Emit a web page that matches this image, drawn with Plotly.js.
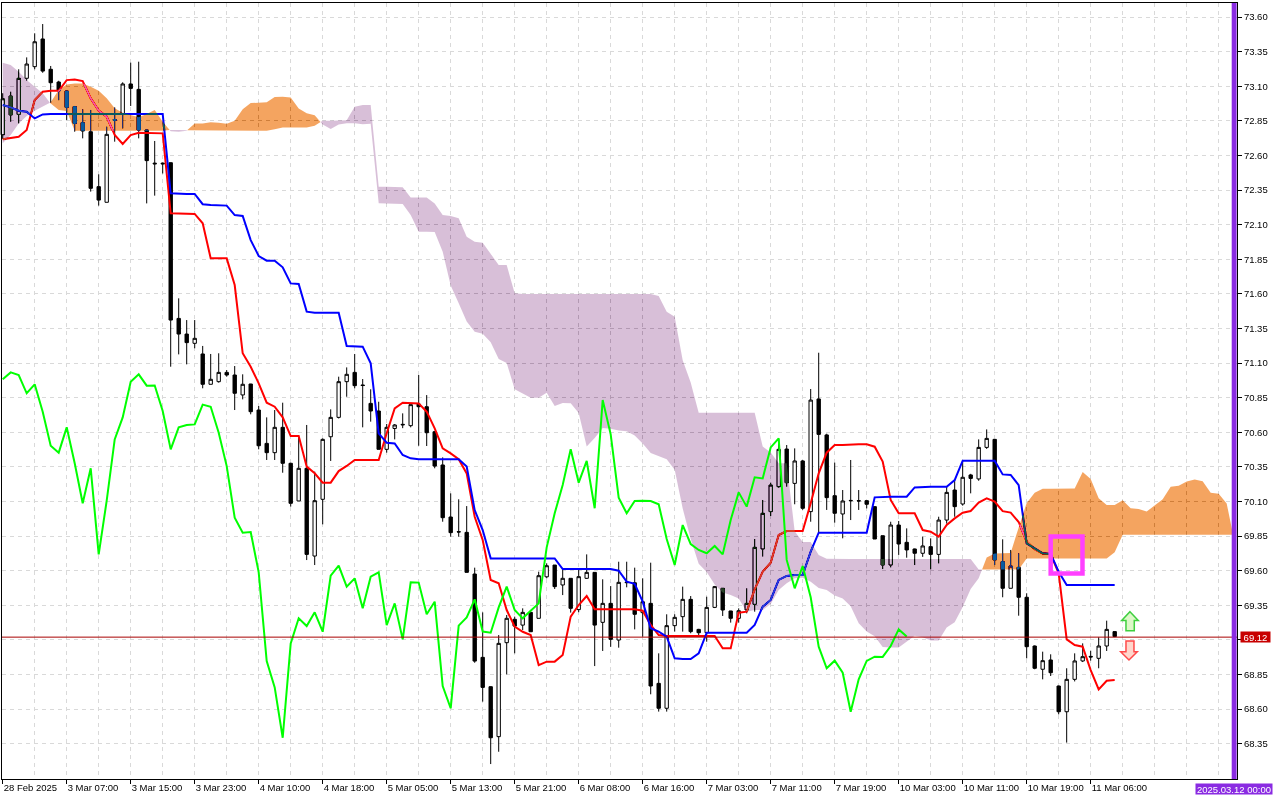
<!DOCTYPE html>
<html>
<head>
<meta charset="utf-8">
<script src="https://cdn.plot.ly/plotly-3.0.1.min.js"></script>
<style>
html,body{margin:0;padding:0;background:#ffffff;}
#chart{width:1280px;height:800px;}
</style>
</head>
<body>
<div id="chart"></div>
<script>
// ---------------- DATA ----------------
const openP = [72.75,73.03,72.897,73.158,73.242,73.442,73.223,73.131,73.066,72.953,
72.837,72.772,72.375,72.262,72.86,72.897,73.117,73.078,72.784,72.545,
72.545,72.548,71.423,71.31,71.243,71.166,70.947,70.966,71.033,71.014,
70.87,70.949,70.761,70.52,70.453,70.636,70.376,70.104,70.34,69.706,
70.116,70.568,70.708,70.966,71.033,70.942,70.809,70.754,70.477,70.628,
70.653,70.648,70.804,70.785,70.604,70.364,69.988,69.882,69.877,69.576,
68.974,68.762,68.401,69.08,69.249,69.207,69.299,69.256,69.556,69.641,
69.497,69.545,69.319,69.545,69.588,69.227,69.364,69.099,69.518,69.513,
69.297,69.364,68.786,68.606,69.203,69.268,69.393,69.176,69.152,69.335,
69.473,69.309,69.256,69.316,69.357,69.757,70.027,70.207,70.479,70.231,
70.393,70.027,70.841,70.581,70.142,70.01,70.108,70.106,70.106,70.063,
69.853,69.641,69.93,69.805,69.757,69.726,69.774,69.718,69.966,70.183,
70.082,70.292,70.263,70.491,70.549,69.665,69.473,69.624,69.408,69.056,
68.888,68.955,68.767,68.581,68.815,68.948,68.981,68.967,69.056,69.16];

const highP = [73.05,73.061,73.223,73.309,73.483,73.55,73.247,73.14,73.07,72.958,
72.934,72.929,72.464,72.808,72.948,73.129,73.271,73.278,72.79,72.705,
72.55,72.55,71.568,71.411,71.411,71.224,71.166,71.171,71.05,71.079,
71.019,70.95,70.79,70.708,70.761,70.814,70.38,70.564,70.653,70.316,
70.556,70.766,71.002,71.069,71.166,70.985,70.911,70.821,70.66,70.66,
70.737,70.8,71.014,70.869,70.61,70.419,70.159,70.116,70.067,69.622,
69.299,68.765,69.135,69.28,69.268,69.328,69.3,69.593,69.653,69.641,
69.605,69.545,69.605,69.718,69.59,69.538,69.489,69.665,69.665,69.622,
69.545,69.658,69.003,69.285,69.285,69.485,69.417,69.18,69.412,69.49,
69.473,69.31,69.328,69.473,69.829,70.111,70.236,70.552,70.508,70.484,
70.4,70.913,71.175,70.59,70.381,70.183,70.4,70.183,70.11,70.063,
69.853,69.954,69.959,69.906,69.76,69.846,69.834,69.99,70.207,70.255,
70.4,70.3,70.549,70.621,70.55,69.827,69.75,69.726,69.437,69.06,
69.015,68.996,68.77,68.895,69.003,69.075,69.022,69.119,69.239,69.16];

const lowP = [72.72,72.844,72.832,73.141,73.223,73.198,72.982,73.0,72.856,72.772,
72.724,72.339,72.238,72.262,72.7,72.796,72.958,72.724,72.254,72.31,
72.47,71.074,71.163,71.091,71.207,70.918,70.947,70.959,71.002,70.761,
70.838,70.73,70.477,70.4,70.4,70.308,70.063,70.104,69.677,69.641,
69.935,70.393,70.7,70.857,70.918,70.636,70.677,70.477,70.453,70.549,
70.63,70.636,70.503,70.501,70.34,69.954,69.846,69.846,69.588,68.935,
68.654,68.203,68.292,68.851,69.003,69.171,69.159,69.256,69.545,69.468,
69.424,69.297,69.3,69.54,68.911,69.02,69.05,69.044,69.48,69.176,
69.123,68.707,68.582,68.582,69.16,69.16,69.148,69.13,69.087,69.33,
69.273,69.225,69.225,69.292,69.304,69.702,69.995,70.2,70.207,70.08,
70.04,69.954,69.875,70.039,69.947,69.834,69.966,70.039,70.05,69.829,
69.612,69.624,69.714,69.694,69.641,69.7,69.61,69.653,69.94,69.99,
70.07,70.159,70.25,70.48,69.641,69.408,69.473,69.275,68.967,68.888,
68.815,68.839,68.562,68.358,68.8,68.94,68.95,68.895,69.02,69.12];

const closeP = [73.01,72.893,73.158,73.261,73.422,73.21,73.126,73.068,72.948,72.832,
72.777,72.363,72.278,72.753,72.855,73.117,73.085,72.784,72.563,72.54,
72.54,71.411,71.31,71.248,71.279,70.947,70.983,71.033,71.014,70.882,
70.947,70.749,70.503,70.453,70.636,70.376,70.087,70.34,69.718,70.106,
70.549,70.708,70.966,71.019,70.937,70.938,70.754,70.477,70.636,70.653,
70.657,70.8,70.785,70.597,70.356,69.983,69.875,69.88,69.588,68.947,
68.757,68.393,69.075,69.256,69.2,69.299,69.159,69.564,69.636,69.485,
69.545,69.328,69.557,69.588,69.207,69.364,69.104,69.516,69.514,69.285,
69.376,68.767,68.606,69.203,69.263,69.393,69.16,69.152,69.335,69.485,
69.316,69.256,69.311,69.364,69.769,70.015,70.219,70.477,70.236,70.393,
70.051,70.833,70.585,70.128,70.015,70.104,70.106,70.104,70.08,69.829,
69.641,69.93,69.793,69.75,69.726,69.779,69.718,69.966,70.166,70.063,
70.275,70.267,70.491,70.556,69.678,69.473,69.634,69.408,69.051,68.895,
68.95,68.863,68.581,68.815,68.948,68.979,68.977,69.056,69.176,69.124];

const tenkan = [72.717,72.724,72.736,72.784,73.001,73.061,73.068,73.068,73.145,73.15,
73.138,73.013,72.924,72.881,72.748,72.683,72.748,72.765,72.765,72.765,
72.76,72.182,72.182,72.182,72.178,72.11,71.857,71.857,71.857,71.664,
71.171,71.074,70.954,70.814,70.785,70.708,70.573,70.573,70.352,70.304,
70.236,70.236,70.32,70.357,70.4,70.4,70.4,70.4,70.593,70.773,
70.814,70.814,70.809,70.749,70.629,70.484,70.448,70.405,70.303,69.99,
69.822,69.533,69.509,69.316,69.196,69.159,69.135,68.918,68.943,68.943,
68.991,69.268,69.352,69.417,69.321,69.321,69.321,69.321,69.321,69.321,
69.311,69.208,69.135,69.128,69.128,69.128,69.128,69.128,69.128,69.128,
69.039,69.039,69.297,69.304,69.465,69.593,69.658,69.858,69.887,69.887,
69.887,70.087,70.304,70.453,70.508,70.508,70.513,70.513,70.513,70.496,
70.388,70.111,70.015,70.015,70.015,69.894,69.882,69.846,69.93,69.978,
70.019,70.031,70.092,70.123,70.099,70.03,70.02,69.952,69.81,69.755,
69.725,69.72,69.581,69.104,69.063,69.051,68.882,68.743,68.805,68.81];

const kijun = [72.965,72.948,72.924,72.917,72.868,72.897,72.9,72.9,72.9,72.9,
72.9,72.9,72.9,72.9,72.9,72.9,72.9,72.9,72.9,72.9,
72.9,72.327,72.322,72.322,72.322,72.248,72.242,72.242,72.238,72.17,
72.163,71.989,71.874,71.84,71.84,71.792,71.676,71.672,71.472,71.464,
71.464,71.464,71.464,71.224,71.224,71.219,71.098,70.593,70.525,70.52,
70.436,70.412,70.405,70.405,70.405,70.405,70.405,70.405,70.352,70.038,
69.894,69.689,69.689,69.689,69.689,69.689,69.689,69.689,69.689,69.689,
69.612,69.612,69.612,69.612,69.612,69.612,69.612,69.6,69.521,69.505,
69.376,69.184,69.16,69.123,68.967,68.962,68.962,69.003,69.152,69.152,
69.152,69.152,69.152,69.152,69.208,69.34,69.389,69.533,69.562,69.569,
69.569,69.738,69.875,69.875,69.875,69.875,69.875,69.875,69.875,70.13,
70.135,70.135,70.135,70.135,70.202,70.207,70.207,70.207,70.207,70.255,
70.395,70.395,70.395,70.395,70.395,70.296,70.292,70.219,69.798,69.762,
69.726,69.721,69.593,69.497,69.497,69.497,69.497,69.497,69.497,69.497];

const chikou = [70.983,71.033,71.014,70.882,70.947,70.749,70.503,70.453,70.636,70.376,
70.087,70.34,69.718,70.106,70.549,70.708,70.966,71.019,70.937,70.938,
70.754,70.477,70.636,70.653,70.657,70.8,70.785,70.597,70.356,69.983,
69.875,69.88,69.588,68.947,68.757,68.393,69.075,69.256,69.2,69.299,
69.159,69.564,69.636,69.485,69.545,69.328,69.557,69.588,69.207,69.364,
69.104,69.516,69.514,69.285,69.376,68.767,68.606,69.203,69.263,69.393,
69.16,69.152,69.335,69.485,69.316,69.256,69.311,69.364,69.769,70.015,
70.219,70.477,70.236,70.393,70.051,70.833,70.585,70.128,70.015,70.104,
70.106,70.104,70.08,69.829,69.641,69.93,69.793,69.75,69.726,69.779,
69.718,69.966,70.166,70.063,70.275,70.267,70.491,70.556,69.678,69.473,
69.634,69.408,69.051,68.895,68.95,68.863,68.581,68.815,68.948,68.979,
68.977,69.056,69.176,69.124];

const senkouA = [72.688,72.748,72.832,72.885,72.924,72.953,72.985,73.073,73.114,73.121,
73.121,73.097,73.068,73.013,72.941,72.909,72.893,72.876,72.9,72.929,
72.844,72.775,72.772,72.779,72.832,72.832,72.841,72.836,72.83,72.851,
72.935,72.979,72.984,72.984,73.023,73.025,73.019,72.94,72.905,72.891,
72.824,72.792,72.824,72.833,72.833,72.826,72.83,72.255,72.252,72.252,
72.25,72.17,72.05,72.05,72.048,71.905,71.66,71.532,71.4,71.327,
71.313,71.25,71.13,71.1,70.912,70.884,70.85,70.85,70.885,70.791,
70.812,70.81,70.74,70.497,70.559,70.632,70.625,70.613,70.607,70.577,
70.52,70.45,70.425,70.405,70.33,70.05,69.83,69.65,69.59,69.5,
69.443,69.424,69.4,69.304,69.316,69.316,69.36,69.46,69.51,69.545,
69.55,69.52,69.475,69.46,69.421,69.4,69.344,69.22,69.16,69.126,
69.048,69.045,69.045,69.09,69.13,69.12,69.096,69.096,69.19,69.228,
69.337,69.467,69.545,69.696,69.725,69.728,69.728,69.913,70.09,70.164,
70.192,70.192,70.194,70.194,70.194,70.313,70.262,70.123,70.075,70.075,
70.109,70.051,70.045,70.027,70.069,70.117,70.207,70.213,70.244,70.259,
70.247,70.163,70.156,70.086,69.804];

const senkouB = [73.271,73.254,73.206,73.145,73.097,73.049,72.975,72.929,72.922,72.779,
72.779,72.779,72.779,72.779,72.779,72.779,72.779,72.779,72.779,72.779,
72.779,72.785,72.785,72.782,72.779,72.779,72.779,72.779,72.779,72.779,
72.779,72.779,72.779,72.779,72.79,72.803,72.803,72.803,72.803,72.815,
72.852,72.852,72.852,72.855,72.953,72.965,72.965,72.375,72.375,72.375,
72.37,72.297,72.297,72.297,72.254,72.17,72.163,72.146,72.013,71.977,
71.97,71.893,71.809,71.809,71.604,71.599,71.599,71.599,71.599,71.599,
71.599,71.599,71.599,71.599,71.599,71.599,71.599,71.599,71.599,71.599,
71.599,71.599,71.585,71.471,71.435,71.12,70.96,70.741,70.741,70.741,
70.741,70.741,70.741,70.741,70.741,70.497,70.454,70.377,70.377,69.886,
69.807,69.807,69.714,69.687,69.685,69.685,69.685,69.685,69.685,69.685,
69.685,69.685,69.685,69.685,69.685,69.685,69.685,69.685,69.685,69.685,
69.685,69.685,69.609,69.609,69.609,69.609,69.609,69.609,69.689,69.689,
69.689,69.689,69.689,69.689,69.689,69.689,69.689,69.689,69.689,69.734,
69.86,69.86,69.86,69.86,69.86,69.86,69.86,69.86,69.86,69.86,
69.86,69.86,69.86,69.86,69.86];

const tickIdx = [0,8,16,24,32,40,48,56,64,72,80,88,96,104,112,120,128,136];
const tickText = ['28 Feb 2025','3 Mar 07:00','3 Mar 15:00','3 Mar 23:00','4 Mar 10:00','4 Mar 18:00',
  '5 Mar 05:00','5 Mar 13:00','5 Mar 21:00','6 Mar 08:00','6 Mar 16:00','7 Mar 03:00',
  '7 Mar 11:00','7 Mar 19:00','10 Mar 03:00','10 Mar 11:00','10 Mar 19:00','11 Mar 06:00'];
const priceTicks = [68.35,68.60,68.85,69.10,69.35,69.60,69.85,70.10,70.35,70.60,70.85,
  71.10,71.35,71.60,71.85,72.10,72.35,72.60,72.85,73.10,73.35,73.60];
const lastPrice = 69.12;
const serverTime = '2025.03.12 00:00';

// ---------------- STYLE ----------------
const GRID = '#d9d9d9';
const FONT = 'Liberation Sans, Arial, sans-serif';
// cloud colours given as "difference" sources (white minus the shown colour)
const ORANGE_SRC = 'rgb(11,91,159)';   // shows as sandybrown on white
const PURPLE_SRC = 'rgb(39,64,39)';    // shows as thistle on white

const idx = arr => arr.map((_, i) => i);
// the price label of the last quote covers the tick label just under it
const priceTickText = priceTicks.map(v => Math.abs(v - lastPrice) < 0.05 ? '' : v.toFixed(2));

function cloudPolys(A, B) {
  const pts = [];
  for (let k = 0; k < A.length; k++) {
    pts.push({x: k, a: A[k], b: B[k]});
    if (k < A.length - 1) {
      const d0 = A[k] - B[k], d1 = A[k + 1] - B[k + 1];
      if (d0 * d1 < 0) {
        const t = d0 / (d0 - d1);
        const v = A[k] + t * (A[k + 1] - A[k]);
        pts.push({x: k + t, a: v, b: v});
      }
    }
  }
  const out = {up: {x: [], y: []}, down: {x: [], y: []}};
  let run = [pts[0]];
  const flush = () => {
    if (run.length < 2) return;
    const s = run.reduce((acc, p) => acc + (p.a - p.b), 0);
    const t = s >= 0 ? out.up : out.down;
    run.forEach(p => { t.x.push(p.x); t.y.push(Math.max(p.a, p.b)); });
    for (let i = run.length - 1; i >= 0; i--) { t.x.push(run[i].x); t.y.push(Math.min(run[i].a, run[i].b)); }
    t.x.push(null); t.y.push(null);
  };
  for (let i = 1; i < pts.length; i++) {
    run.push(pts[i]);
    if (pts[i].a === pts[i].b && i < pts.length - 1) { flush(); run = [pts[i]]; }
  }
  flush();
  return out;
}
const cloud = cloudPolys(senkouA, senkouB);

const traces = [
  {type: 'candlestick', x: idx(openP), open: openP, high: highP, low: lowP, close: closeP,
   increasing: {line: {color: '#000000', width: 1}, fillcolor: '#ffffff'},
   decreasing: {line: {color: '#000000', width: 1}, fillcolor: '#000000'},
   whiskerwidth: 0, hoverinfo: 'skip', name: 'price'},
  {type: 'scatter', mode: 'lines', x: idx(tenkan), y: tenkan, line: {color: '#ff0000', width: 2}, hoverinfo: 'skip', name: 'Tenkan-sen'},
  {type: 'scatter', mode: 'lines', x: idx(kijun), y: kijun, line: {color: '#0000ff', width: 2}, hoverinfo: 'skip', name: 'Kijun-sen'},
  {type: 'scatter', mode: 'lines', x: cloud.up.x, y: cloud.up.y, fill: 'toself', fillcolor: ORANGE_SRC,
   line: {width: 0, color: ORANGE_SRC}, hoverinfo: 'skip', name: 'cloud up'},
  {type: 'scatter', mode: 'lines', x: cloud.down.x, y: cloud.down.y, fill: 'toself', fillcolor: PURPLE_SRC,
   line: {width: 0, color: PURPLE_SRC}, hoverinfo: 'skip', name: 'cloud down'},
  {type: 'scatter', mode: 'lines', x: idx(chikou), y: chikou, line: {color: '#00ff00', width: 2}, hoverinfo: 'skip', name: 'Chikou Span'}
];

// pixel -> data helpers for decorations
const X = px => (px - 2.7) / 8;
const Y = py => 73.35 - (py - 51.7) / 138.4;
const pathFrom = pts => 'M' + pts.map(p => X(p[0]).toFixed(4) + ',' + Y(p[1]).toFixed(5)).join(' L') + ' Z';

const upArrow = pathFrom([[1130,611.7],[1138.3,620.5],[1134.3,620.5],[1134.3,630.7],[1126,630.7],[1126,620.5],[1121.7,620.5]]);
const downArrow = pathFrom([[1126,641],[1134,641],[1134,651.7],[1137.3,651.7],[1129,660],[1120.7,651.7],[1126,651.7]]);

const layout = {
  width: 1280, height: 800,
  margin: {l: 2, r: 43, t: 3, b: 21, pad: 0},
  paper_bgcolor: '#ffffff', plot_bgcolor: '#ffffff',
  showlegend: false, hovermode: false,
  font: {family: FONT, size: 9.5, color: '#000000'},
  boxgap: 0.4,
  xaxis: {
    type: 'linear', range: [-0.0875, 154.29], rangeslider: {visible: false},
    tickmode: 'array', tickvals: tickIdx, ticktext: tickText, tickangle: 0,
    ticks: 'outside', ticklen: 4, tickcolor: '#000000', tickwidth: 1,
    ticklabelposition: 'outside right', ticklabeloverflow: 'allow',
    showgrid: true, gridcolor: GRID, griddash: '4px,4px', gridwidth: 1,
    minor: {tickmode: 'linear', tick0: 0, dtick: 4, showgrid: true, gridcolor: GRID, griddash: '4px,4px', gridwidth: 1, ticks: ''},
    showline: true, linecolor: '#000000', linewidth: 1, mirror: true,
    zeroline: false, fixedrange: true, automargin: false
  },
  yaxis: {
    side: 'right', range: [68.095, 73.702],
    tickmode: 'array', tickvals: priceTicks, ticktext: priceTickText,
    ticks: 'outside', ticklen: 4, tickcolor: '#000000', tickwidth: 1,
    showgrid: true, gridcolor: GRID, griddash: '4px,4px', gridwidth: 1,
    showline: true, linecolor: '#000000', linewidth: 1, mirror: true,
    zeroline: false, fixedrange: true, automargin: false
  },
  shapes: [
    {type: 'line', xref: 'paper', x0: 0, x1: 1, yref: 'y', y0: lastPrice, y1: lastPrice,
     line: {color: '#a80000', width: 1}, layer: 'above'},
    {type: 'rect', xref: 'x', yref: 'y', x0: X(1050.7), x1: X(1082.5), y0: Y(536.5), y1: Y(573.5),
     line: {color: '#ff40ff', width: 4.5}, fillcolor: 'rgba(0,0,0,0)', layer: 'above'},
    {type: 'path', xref: 'x', yref: 'y', path: upArrow, line: {color: '#3fcf3f', width: 1.5},
     fillcolor: '#dcf8c8', layer: 'above'},
    {type: 'path', xref: 'x', yref: 'y', path: downArrow, line: {color: '#ff4a4a', width: 1.5},
     fillcolor: '#ffd6cc', layer: 'above'},
    {type: 'rect', xref: 'paper', yref: 'paper', x0: (1231.7 - 2) / 1235, x1: (1236.6 - 2) / 1235, y0: 0, y1: 1,
     fillcolor: '#8a2be2', line: {width: 0}, layer: 'above'}
  ],
  annotations: [
    {xref: 'paper', x: (1240 - 2) / 1235, xanchor: 'left', yref: 'y', y: lastPrice, yanchor: 'middle',
     text: lastPrice.toFixed(2), showarrow: false, bgcolor: '#c80000', borderpad: 1, width: 27, height: 8,
     font: {family: FONT, size: 9.5, color: '#ffffff'}},
    {xref: 'paper', x: (1234 - 2) / 1235, xanchor: 'center', yref: 'paper', y: (779 - 789) / 776, yanchor: 'middle',
     text: serverTime, showarrow: false, bgcolor: '#8a2be2', borderpad: 1, width: 74, height: 8,
     font: {family: FONT, size: 9.5, color: '#ffffff'}}
  ]
};

const gd = document.getElementById('chart');
Plotly.newPlot(gd, traces, layout, {staticPlot: true, displayModeBar: false}).then(() => {
  // let the cloud blend with what lies under it (as the terminal draws it)
  gd.querySelectorAll('.cartesianlayer [clip-path]').forEach(el => el.removeAttribute('clip-path'));
  const trs = gd.querySelectorAll('.scatterlayer .trace');
  [2, 3].forEach(i => {
    if (trs[i]) trs[i].querySelectorAll('.fills path').forEach(p => { p.style.mixBlendMode = 'difference'; });
  });
});
</script>
</body>
</html>
